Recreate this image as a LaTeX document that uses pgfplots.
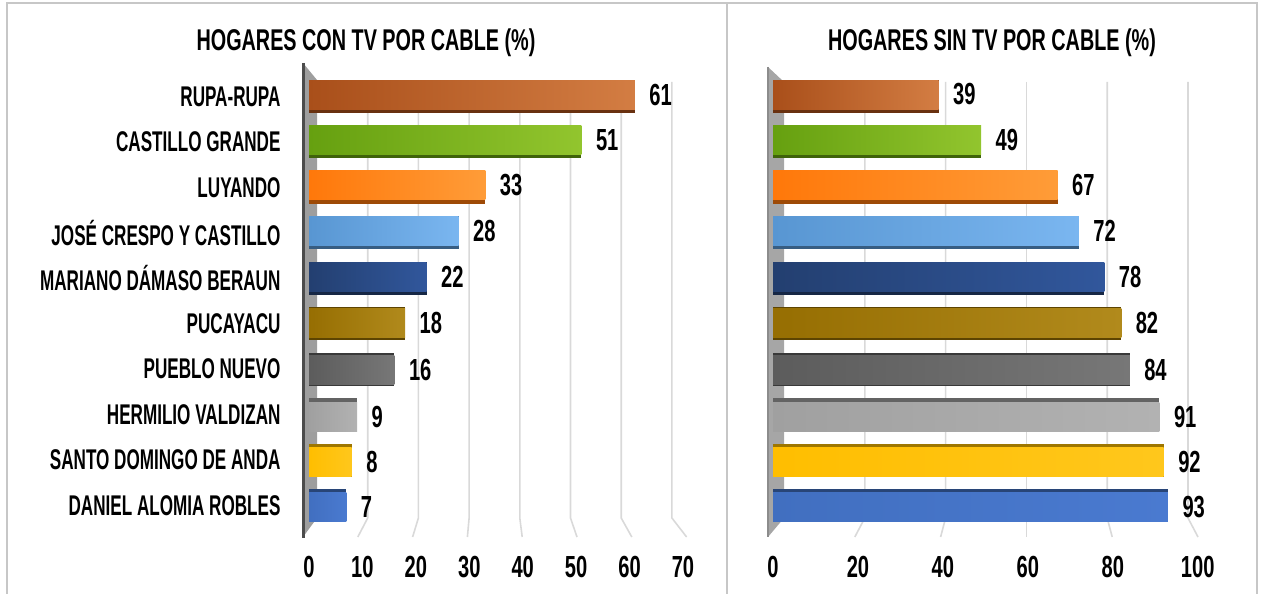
\documentclass[border=0pt]{standalone}
\usepackage{pgfplots}
\pgfplotsset{compat=1.18}
\usepackage{fontspec}
\setmainfont{Liberation Sans}
\newfontfamily\labf{Liberation Sans}[FakeStretch=0.60]
\newfontfamily\numf{Liberation Sans}[FakeStretch=0.66]
\definecolor{c1a}{HTML}{A94F1A}\definecolor{c1b}{HTML}{D37D43}
\definecolor{c2a}{HTML}{66A010}\definecolor{c2b}{HTML}{92C52E}
\definecolor{c3a}{HTML}{FF780A}\definecolor{c3b}{HTML}{FF9C38}
\definecolor{c4a}{HTML}{5896D2}\definecolor{c4b}{HTML}{7AB6F0}
\definecolor{c5a}{HTML}{233F70}\definecolor{c5b}{HTML}{31579C}
\definecolor{c6a}{HTML}{966E02}\definecolor{c6b}{HTML}{B18A1C}
\definecolor{c7a}{HTML}{5C5C5C}\definecolor{c7b}{HTML}{777777}
\definecolor{c8a}{HTML}{A0A0A0}\definecolor{c8b}{HTML}{B2B2B2}
\definecolor{c9a}{HTML}{FFBE00}\definecolor{c9b}{HTML}{FFC71C}
\definecolor{c0a}{HTML}{416FC0}\definecolor{c0b}{HTML}{4A7AD0}
\colorlet{gridc}{black!15}
% value, position, left colour, right colour, face shift
\newcommand{\tdbar}[5]{%
\addplot[draw=none, fill=#3!62!black, bar width=33pt, bar shift=0pt, forget plot] coordinates {(#1,#2)};
\addplot[draw=none, left color=#3, right color=#4, bar width=29pt, bar shift=#5, nodes near coords] coordinates {(#1,#2)};
}
\pgfplotsset{
 panel/.style={
  anchor=south west, scale only axis, height=454.4pt,
  ymin=-0.5, ymax=9.5, ytick={0,...,9}, xbar,
  axis line style={draw=none}, major tick length=0pt,
  xmajorgrids=false,
  xticklabel style={font=\numf\bfseries\fontsize{30.5}{32}\selectfont, yshift=-24pt},
  yticklabel style={font=\labf\bfseries\fontsize{28.5}{30}\selectfont},
  /pgf/number format/assume math mode=true,
  nodes near coords style={font=\numf\bfseries\fontsize{30.5}{32}\selectfont, anchor=west, xshift=11pt},
  clip=false,
 }
}
\begin{document}
\begin{tikzpicture}
\useasboundingbox (0pt,0pt) rectangle (1261pt,594pt);
\begin{scope}[x=1pt,y=1pt]
% frame and divider
\draw[black!22, line width=2pt] (7,0) -- (7,591) -- (1257,591) -- (1257,0);
\draw[black!22, line width=1.5pt] (727,0) -- (727,591);
% walls and floor grid (decoration)
\fill[black!38] (303,531) -- (317,514) -- (317,76) -- (303,57) -- cycle;
\draw[black!70, line width=3pt] (303,531) -- (303,56);
\foreach \v in {10,20,...,70}{
  \draw[gridc, line width=1.6pt] ({317+5.07*\v},512) -- ({317+5.07*\v},76) -- ({303+5.48*\v},57);
}
\fill[black!35] (768,527) -- (784,512) -- (784,76) -- (768,57) -- cycle;
\draw[black!45, line width=2pt] (768,527) -- (768,57);
\foreach \v in {20,40,...,100}{
  \draw[gridc, line width=1.6pt] ({784+4.04*\v},512) -- ({784+4.04*\v},76) -- ({769+4.29*\v},57);
}
% titles
\node[font=\numf\bfseries\fontsize{30}{32}\selectfont] at (366,551) {HOGARES CON TV POR CABLE (\%)};
\node[font=\numf\bfseries\fontsize{30}{32}\selectfont] at (992,551) {HOGARES SIN TV POR CABLE (\%)};
\end{scope}
\begin{axis}[panel, at={(309pt,65.8pt)}, width=374pt,
 xmin=0, xmax=70, xtick={0,10,...,70},
 yticklabels={DANIEL ALOMIA ROBLES, SANTO DOMINGO DE ANDA, HERMILIO VALDIZAN, PUEBLO NUEVO, PUCAYACU, MARIANO DÁMASO BERAUN, JOSÉ CRESPO Y CASTILLO, LUYANDO, CASTILLO GRANDE, RUPA-RUPA},
 yticklabel style={xshift=-25pt}]
\tdbar{61}{9}{c1a}{c1b}{2pt}
\tdbar{51}{8}{c2a}{c2b}{2pt}
\tdbar{33}{7}{c3a}{c3b}{2pt}
\tdbar{28}{6}{c4a}{c4b}{2pt}
\tdbar{22}{5}{c5a}{c5b}{1pt}
\tdbar{18}{4}{c6a}{c6b}{1pt}
\tdbar{16}{3}{c7a}{c7b}{-1pt}
\tdbar{9}{2}{c8a}{c8b}{-2pt}
\tdbar{8}{1}{c9a}{c9b}{-2pt}
\tdbar{7}{0}{c0a}{c0b}{-2pt}
\end{axis}
\begin{axis}[panel, at={(773pt,65.8pt)}, width=424.7pt,
 xmin=0, xmax=100, xtick={0,20,...,100}, yticklabels={}]
\tdbar{39}{9}{c1a}{c1b}{2pt}
\tdbar{49}{8}{c2a}{c2b}{2pt}
\tdbar{67}{7}{c3a}{c3b}{2pt}
\tdbar{72}{6}{c4a}{c4b}{2pt}
\tdbar{78}{5}{c5a}{c5b}{1pt}
\tdbar{82}{4}{c6a}{c6b}{1pt}
\tdbar{84}{3}{c7a}{c7b}{-1pt}
\tdbar{91}{2}{c8a}{c8b}{-2pt}
\tdbar{92}{1}{c9a}{c9b}{-2pt}
\tdbar{93}{0}{c0a}{c0b}{-2pt}
\end{axis}
\end{tikzpicture}
\end{document}
